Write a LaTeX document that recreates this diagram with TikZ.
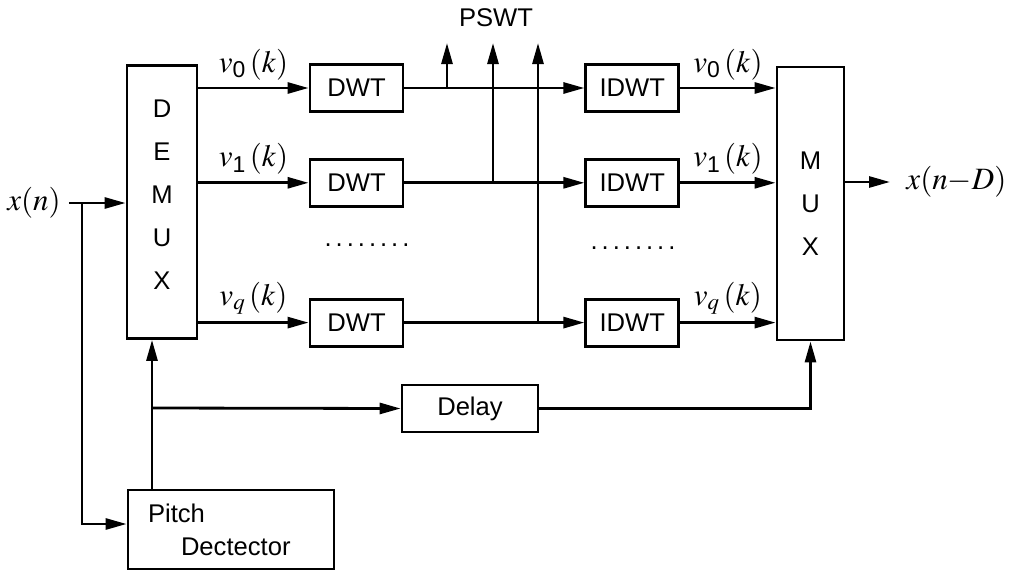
\documentclass[tikz,border=0pt]{standalone}
\usepackage{amsmath}
\usepackage{mathptmx}
\usepackage[no-math]{fontspec}
\setmainfont{Liberation Sans}
\usetikzlibrary{arrows.meta,
positioning,
calc}

\newcommand{\rowdots}{.\hspace{2pt}.\hspace{2pt}.\hspace{2pt}.\hspace{2pt}.\hspace{2pt}.\hspace{2pt}.\hspace{2pt}.}

\begin{document}
\begin{tikzpicture}[
				x=0.5pt, y=-0.5pt,
				line width=1.4pt,
				font=\fontsize{12.8}{15}\selectfont,
				>={Triangle[length=10.5pt,width=5.5pt]},
				block/.style={
					draw,
					line width=1.4pt,
					minimum height=23.5pt,
					inner sep=0pt
				},
				wtbox/.style={block, minimum width=46.5pt},
				muxbox/.style={
					block,
					align=center,
					font=\fontsize{12.8}{21.5}\selectfont,
					minimum height=136.5pt
				},
				sig/.style={above, font=\fontsize{15.5}{17}\selectfont}
				]
				\useasboundingbox (0,0) rectangle (1012,573);
				
				\node[muxbox, minimum width=35pt] (demux) at (162,202) {D\\E\\M\\U\\X\rule[-7pt]{0pt}{7pt}};
				\node[muxbox, minimum width=33.5pt] (mux) at (810.5,203.5) {M\\U\\X};
				
				\node[wtbox] (dwt0) at (356.5,88) {DWT};
				\node[wtbox, below=22.5pt of dwt0] (dwt1) {DWT};
				\node[wtbox, below=45pt of dwt1] (dwtq) {DWT};
				\node[wtbox, right=90pt of dwt0] (idwt0) {IDWT};
				\node[wtbox, right=90pt of dwt1] (idwt1) {IDWT};
				\node[wtbox, right=90pt of dwtq] (idwtq) {IDWT};
				
				\node[block, minimum width=68pt] (delay) at (470,408.5) {Delay};
				\node[block, minimum width=103pt, minimum height=39.5pt, text width=83pt,
					align=left, font=\fontsize{12.8}{16.5}\selectfont] (pitch) at (231,529.5)
					{Pitch\\\hspace*{16.5pt}Dectector};
				
				\node[font=\fontsize{15.5}{17}\selectfont] (xn) at (34,203) {$x(n)$};
				\node[anchor=west, inner sep=0pt, font=\fontsize{15.5}{17}\selectfont] (xnd) at (905,182) {$x(n{-}D)$};
				\node (pswt) at (496,18) {PSWT};
				\node (ldots) at (367,245) {\rowdots};
				\node (rdots) at (633,248) {\rowdots};
				
				\coordinate (split) at (82,203);
				\coordinate (fb) at (152,408);
				\coordinate (out) at (890,182);
				\coordinate (pswt0) at (447,43);
				\coordinate (pswt1) at (493,43);
				\coordinate (pswtq) at (538,43);
				
				\draw[->] (xn.east) -- (xn -| demux.west);
				\draw[->] (split) |- ([yshift=2.75pt]pitch.west);
				\draw[->] (fb |- pitch.north) -- (fb |- demux.south);
				\draw[->] (fb) -- (delay.west);
				\draw[->] (delay.east) -| (mux.south);
				\draw[->] (mux.east |- out) -- (out);
				
				\draw[->] (demux.east |- dwt0) -- node[sig] {$v_{\text{0}}\,(k)$} (dwt0.west);
				\draw[->] (demux.east |- dwt1) -- node[sig] {$v_{\text{1}}\,(k)$} (dwt1.west);
				\draw[->] (demux.east |- dwtq) -- node[sig] {$v_q\,(k)$} (dwtq.west);
				
				\draw[->] (dwt0.east) -- (idwt0.west);
				\draw[->] (dwt1.east) -- (idwt1.west);
				\draw[->] (dwtq.east) -- (idwtq.west);
				
				\draw[->] (pswt0 |- dwt0) -- (pswt0);
				\draw[->] (pswt1 |- dwt1) -- (pswt1);
				\draw[->] (pswtq |- dwtq) -- (pswtq);
				
				\draw[->] (idwt0.east) -- node[sig] {$v_{\text{0}}\,(k)$} (idwt0 -| mux.west);
				\draw[->] (idwt1.east) -- node[sig] {$v_{\text{1}}\,(k)$} (idwt1 -| mux.west);
				\draw[->] (idwtq.east) -- node[sig] {$v_q\,(k)$} (idwtq -| mux.west);
			\end{tikzpicture}
\end{document}
